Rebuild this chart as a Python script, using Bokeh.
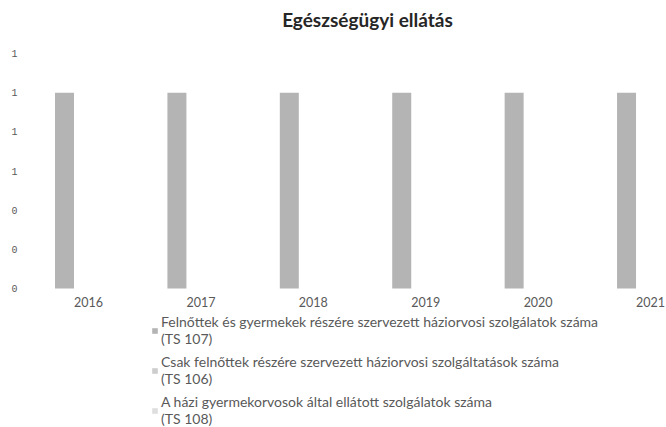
from bokeh.plotting import figure
from bokeh.models import (ColumnDataSource, Range1d, FixedTicker, NumeralTickFormatter,
                          Legend, LegendItem, LinearAxis, Label)
from bokeh.transform import dodge
from bokeh.embed import file_html
from bokeh.resources import INLINE

years = [2016, 2017, 2018, 2019, 2020, 2021]
ts107 = [1, 1, 1, 1, 1, 1]
ts106 = [0, 0, 0, 0, 0, 0]
ts108 = [0, 0, 0, 0, 0, 0]
y_ticks = [0, 0.2, 0.4, 0.6, 0.8, 1.0, 1.2]
title = "Egészségügyi ellátás"
labels = [
    "Felnőttek és gyermekek részére szervezett háziorvosi szolgálatok száma\n(TS 107)",
    "Csak felnőttek részére szervezett háziorvosi szolgáltatások száma\n(TS 106)",
    "A házi gyermekorvosok által ellátott szolgálatok száma\n(TS 108)",
]
colors = ["#b4b4b4", "#cdcdcd", "#dedede"]

src = ColumnDataSource(dict(year=years, ts107=ts107, ts106=ts106, ts108=ts108))

p = figure(width=666, height=427, output_backend="svg", toolbar_location=None,
           x_range=Range1d(2015.484, 2021.142), y_range=Range1d(-0.7098, 1.4707),
           x_axis_location=None,
           min_border_left=30, min_border_right=0, min_border_top=0, min_border_bottom=0)
p.outline_line_color = None
p.xgrid.grid_line_color = None
p.ygrid.grid_line_color = None

p.add_layout(Label(x=337, y=408, x_units="screen", y_units="screen", text=title,
                   text_font="Lato", text_font_style="bold", text_font_size="19px",
                   text_color="#262626", text_align="center", text_baseline="middle"))

off = 0.2135
w = 0.169
r1 = p.vbar(x=dodge("year", -off), top="ts107", width=w, source=src, fill_color=colors[0], line_color=None)
r2 = p.vbar(x=dodge("year", 0), top="ts106", width=w, source=src, fill_color=colors[1], line_color=None)
r3 = p.vbar(x=dodge("year", off), top="ts108", width=w, source=src, fill_color=colors[2], line_color=None)

xaxis = LinearAxis(fixed_location=0, ticker=FixedTicker(ticks=years),
                   axis_line_color=None, major_tick_line_color=None, minor_tick_line_color=None,
                   major_tick_out=0, major_tick_in=0, major_label_standoff=8,
                   major_label_text_font="Lato", major_label_text_font_size="12.5px",
                   major_label_text_color="#595959")
p.add_layout(xaxis, "below")

p.yaxis.ticker = FixedTicker(ticks=y_ticks)
p.yaxis.formatter = NumeralTickFormatter(format="0")
p.yaxis.axis_line_color = None
p.yaxis.major_tick_line_color = None
p.yaxis.minor_tick_line_color = None
p.yaxis.major_tick_out = 0
p.yaxis.major_tick_in = 0
p.yaxis.major_label_standoff = 13
p.yaxis.major_label_text_font = "Liberation Mono"
p.yaxis.major_label_text_font_size = "10px"
p.yaxis.major_label_text_color = "#595959"

legend = Legend(items=[LegendItem(label=labels[0], renderers=[r1]),
                       LegendItem(label=labels[1], renderers=[r2]),
                       LegendItem(label=labels[2], renderers=[r3])],
                location=(121, 0), orientation="vertical",
                background_fill_alpha=0, border_line_color=None,
                padding=0, margin=0, spacing=6,
                glyph_width=7, glyph_height=7, label_standoff=3,
                label_text_font="Lato", label_text_font_size="14px",
                label_text_color="#595959")
p.add_layout(legend, "center")

open("out.html", "w").write(file_html(p, INLINE))
